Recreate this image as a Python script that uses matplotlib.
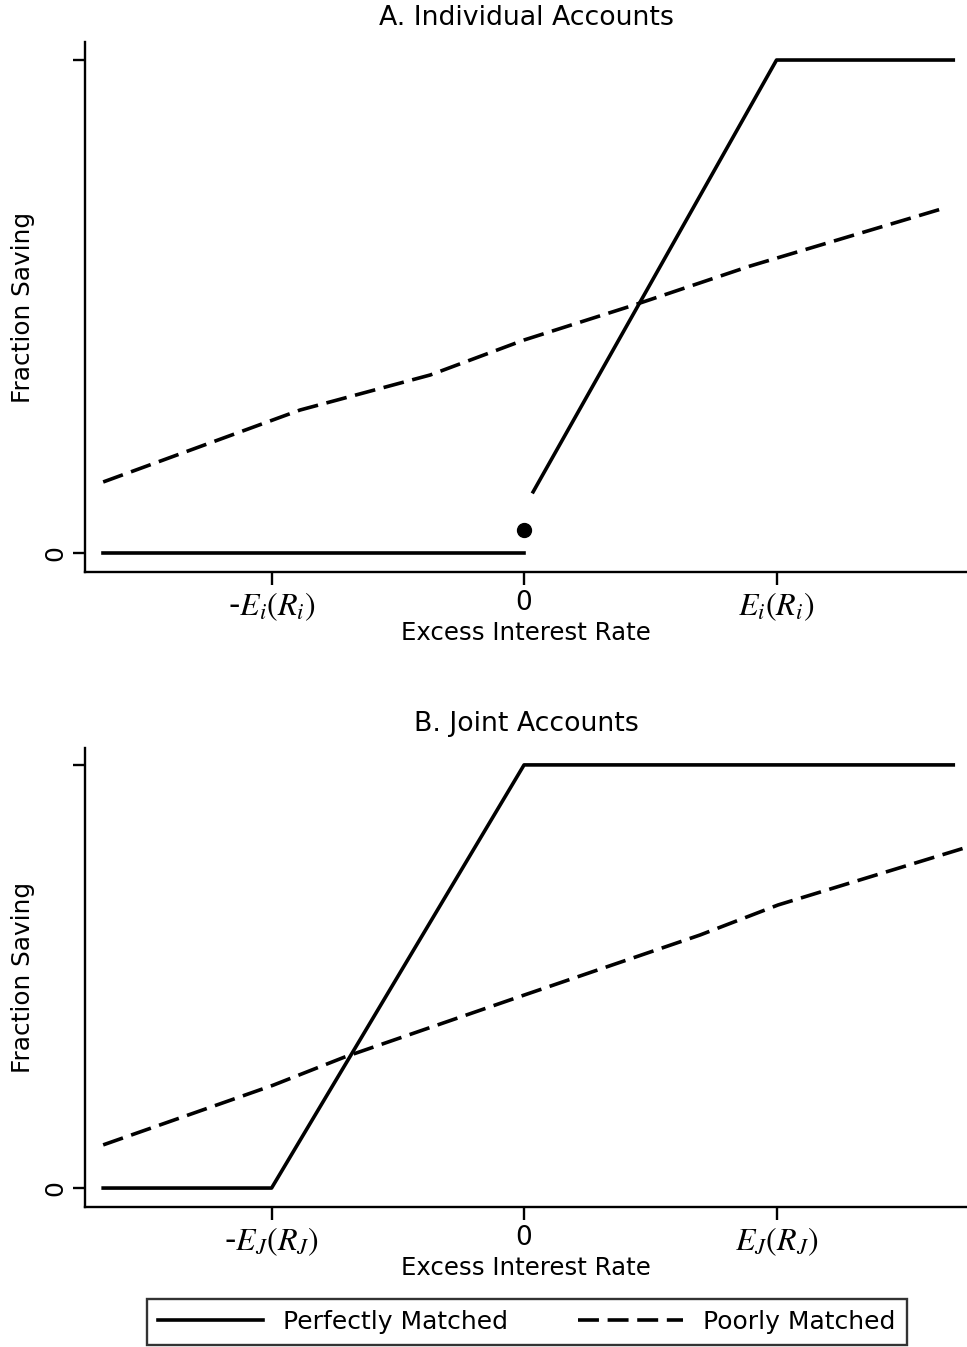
import numpy as np
import matplotlib.pyplot as plt
from matplotlib.lines import Line2D

plt.rcParams['mathtext.fontset'] = 'stix'
plt.rcParams['font.family'] = 'DejaVu Sans'

# panel A: individual accounts
a_solid_low_x = [-1.667, 0.0]
a_solid_low_y = [0.0, 0.0]
a_dot_x = [0.0]
a_dot_y = [0.047]
a_solid_up_x = [0.036, 1.0, 1.70]
a_solid_up_y = [0.124, 1.0, 1.0]
a_dash_x = [-1.667, -0.887, -0.372, 0.0, 0.436, 0.895, 1.667]
a_dash_y = [0.144, 0.290, 0.361, 0.432, 0.503, 0.582, 0.700]
a_ticks = ["-$E_i(R_i)$", "0", "$E_i(R_i)$"]

# panel B: joint accounts
b_solid_x = [-1.667, -1.0, 0.0, 1.70]
b_solid_y = [0.0, 0.0, 1.0, 1.0]
b_dash_x = [-1.667, -0.994, -0.709, 0.0, 0.697, 1.006, 1.746]
b_dash_y = [0.102, 0.243, 0.310, 0.456, 0.598, 0.669, 0.804]
b_ticks = ["-$E_J(R_J)$", "0", "$E_J(R_J)$"]

tick_pos = [-1, 0, 1]

fig = plt.figure(figsize=(9.67, 13.47), dpi=100)
axA = fig.add_axes([0.0879, 0.5754, 0.912, 0.3934])
axB = fig.add_axes([0.0879, 0.1039, 0.912, 0.3408])

lw = 2.6
dash = (0, (5.8, 2.4))


def style(ax, ticks, title, ylim):
    ax.set_xlim(-1.739, 1.754)
    ax.set_ylim(*ylim)
    for s in ["top", "right"]:
        ax.spines[s].set_visible(False)
    for s in ["left", "bottom"]:
        ax.spines[s].set_linewidth(1.7)
    ax.set_xticks(tick_pos)
    ax.set_xticklabels(ticks, fontsize=23)
    ax.get_xticklabels()[1].set_fontsize(19)
    ax.set_yticks([0, 1])
    ax.set_yticklabels(["0", ""], fontsize=18, rotation=90, va="center")
    ax.tick_params(width=1.7, length=9, pad=4)
    ax.set_xlabel("Excess Interest Rate", fontsize=17.6, labelpad=-1)
    ax.set_ylabel("Fraction Saving", fontsize=17.8)
    ax.yaxis.set_label_coords(-0.057, 0.5)
    ax.set_title(title, fontsize=19.3, pad=12)


axA.plot(a_solid_low_x, a_solid_low_y, color="black", lw=lw)
axA.plot(a_solid_up_x, a_solid_up_y, color="black", lw=lw)
axA.plot(a_dot_x, a_dot_y, "o", color="black", ms=10)
axA.plot(a_dash_x, a_dash_y, color="black", lw=lw, linestyle=dash)
style(axA, a_ticks, "A. Individual Accounts", (-0.0385, 1.0365))

axB.plot(b_solid_x, b_solid_y, color="black", lw=lw)
axB.plot(b_dash_x, b_dash_y, color="black", lw=lw, linestyle=dash)
style(axB, b_ticks, "B. Joint Accounts", (-0.0449, 1.040))

handles = [Line2D([], [], color="black", lw=lw),
           Line2D([], [], color="black", lw=lw, linestyle=dash)]
leg = fig.legend(handles, ["Perfectly Matched", "Poorly Matched"], ncol=2,
                 loc="center", bbox_to_anchor=(0.545, 0.0185), fontsize=18,
                 frameon=True, fancybox=False, edgecolor="black",
                 handlelength=4.2, columnspacing=2.8, borderpad=0.45)
leg.get_frame().set_linewidth(1.7)

fig.savefig("out.png", dpi=100)
